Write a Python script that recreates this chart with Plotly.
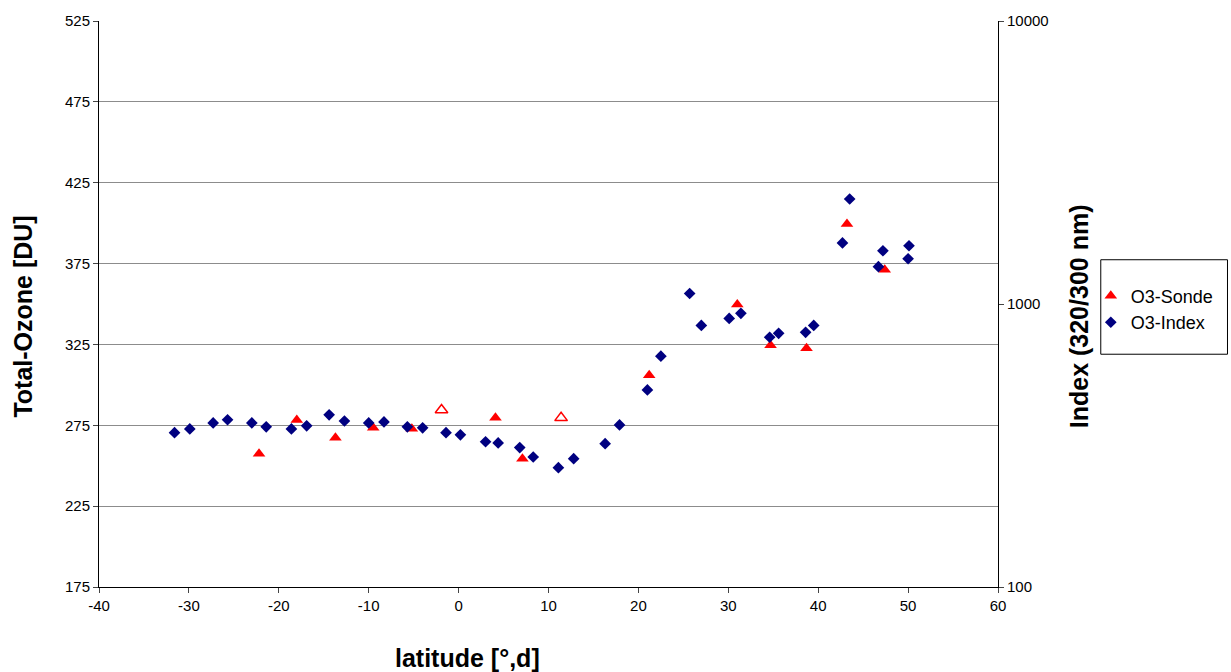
import plotly.graph_objects as go

# O3-Sonde (total ozone, DU) - filled triangles
sonde_lat = [-22.2, -18.0, -13.7, -9.5, -5.2, 4.1, 7.1, 21.2, 31.0, 34.7, 38.7, 43.2, 47.4]
sonde_du = [257.4, 278.3, 267.3, 273.4, 272.8, 279.6, 254.3, 306.0, 349.7, 324.5, 322.6, 399.5, 371.2]

# O3-Sonde, hollow markers
sonde_open_lat = [-1.9, 11.4]
sonde_open_du = [284.5, 279.6]

# O3-Index (320/300 nm) - diamonds, right log axis
index_lat = [-31.6, -29.9, -27.3, -25.7, -23.0, -21.4, -18.6, -16.9, -14.4, -12.7,
             -10.0, -8.3, -5.7, -4.0, -1.4, 0.2, 3.0, 4.4, 6.8, 8.3,
             11.1, 12.8, 16.3, 17.9, 21.0, 22.5, 25.7, 27.0, 30.1, 31.4,
             34.6, 35.6, 38.6, 39.5, 42.7, 43.5, 46.7, 47.2, 50.0, 50.1]
index_val = [351, 362, 380, 390, 380, 368, 362, 371, 406, 386,
             380, 383, 368, 365, 351, 345, 326, 323, 311, 288,
             264, 284, 321, 374, 497, 654, 1089, 840, 889, 927,
             763, 788, 794, 840, 1644, 2350, 1355, 1542, 1445, 1606]

x_ticks = list(range(-40, 61, 10))
x_ticktext = [str(v) for v in x_ticks]
y_ticks = list(range(175, 526, 50))
y2_ticks = [100, 1000, 10000]
y2_ticktext = ["100", "1000", "10000"]

FONT = "Liberation Sans, Arial, sans-serif"
L, R, T, B = 99, 1000, 18, 587
PW, PH = R - L, B - T
TICKFONT = dict(family=FONT, size=15, color="black")


def px(x):
    return (x - L) / PW


def py(y):
    return 1 - (y - T) / PH


fig = go.Figure()
fig.add_trace(go.Scatter(
    x=sonde_lat, y=sonde_du, mode="markers", name="O3-Sonde",
    marker=dict(symbol="triangle-up", size=11, color="#FF0000"),
))
fig.add_trace(go.Scatter(
    x=index_lat, y=index_val, mode="markers", name="O3-Index", yaxis="y2",
    marker=dict(symbol="diamond", size=9, color="#000080"),
))
fig.add_trace(go.Scatter(
    x=sonde_open_lat, y=sonde_open_du, mode="markers", name="O3-Sonde (open)",
    showlegend=False,
    marker=dict(symbol="triangle-up-open", size=11, color="#FF0000", line=dict(width=1.5)),
))

fig.update_layout(
    width=1231, height=672,
    margin=dict(l=L, r=1231 - R, t=T, b=672 - B),
    paper_bgcolor="white", plot_bgcolor="white",
    font=dict(family=FONT, size=15, color="black"),
    xaxis=dict(
        range=[-40, 60], tickvals=x_ticks, ticktext=x_ticktext, ticks="outside", ticklen=5,
        tickfont=TICKFONT,
        showline=True, linecolor="black", linewidth=1, showgrid=False, zeroline=False,
    ),
    yaxis=dict(
        range=[175, 525], tickvals=y_ticks, ticks="outside", ticklen=5,
        tickfont=TICKFONT,
        showline=True, linecolor="black", linewidth=1,
        showgrid=True, gridcolor="#8c8c8c", gridwidth=1, zeroline=False,
    ),
    yaxis2=dict(
        type="log", range=[2, 4], tickvals=y2_ticks, ticktext=y2_ticktext,
        tickfont=TICKFONT,
        overlaying="y", side="right", ticks="outside", ticklen=5,
        showline=True, linecolor="black", linewidth=1, showgrid=False, zeroline=False,
    ),
    legend=dict(
        x=px(1093), y=py(276), xanchor="left", yanchor="top",
        font=dict(family=FONT, size=18), bgcolor="rgba(0,0,0,0)", borderwidth=0,
        tracegroupgap=0, itemwidth=30,
    ),
    shapes=[dict(
        type="rect", xref="paper", yref="paper",
        x0=px(1103), x1=px(1230), y0=py(353), y1=py(258),
        line=dict(color="black", width=1), fillcolor="rgba(0,0,0,0)",
    )],
    annotations=[
        dict(text="<b>latitude [°,d]</b>", xref="paper", yref="paper",
             x=px(468), y=py(658), xanchor="center", yanchor="middle",
             showarrow=False, font=dict(family=FONT, size=25)),
        dict(text="<b>Total-Ozone [DU]</b>", xref="paper", yref="paper",
             x=px(23), y=py(315), xanchor="center", yanchor="middle",
             showarrow=False, textangle=-90, font=dict(family=FONT, size=25)),
        dict(text="<b>Index (320/300 nm)</b>", xref="paper", yref="paper",
             x=px(1082), y=py(315), xanchor="center", yanchor="middle",
             showarrow=False, textangle=-90, font=dict(family=FONT, size=25)),
    ],
)

fig.write_html("out.html")
